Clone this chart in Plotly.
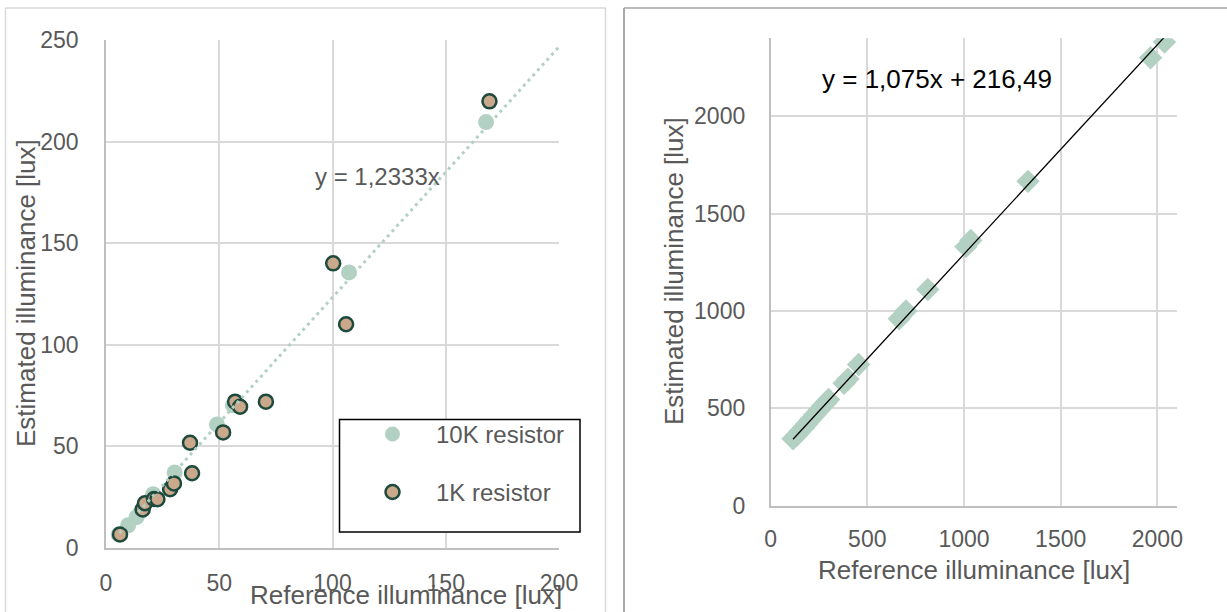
import plotly.graph_objects as go

W, H = 1227, 612

# ---------------- data ----------------
# Left chart: reference vs estimated illuminance (lux)
k10_x = [5.6, 9.8, 13.5, 15.5, 20.8, 30.3, 49.0, 56.0, 107.3, 167.8]
k10_y = [6.7, 11.2, 15.2, 18.0, 26.5, 37.2, 60.8, 70.2, 135.6, 209.6]
k1_x = [6.2, 16.2, 17.2, 21.2, 22.7, 28.3, 30.0, 38.0, 37.1, 51.7, 57.0, 59.2, 70.6, 100.3, 106.0, 169.3]
k1_y = [6.7, 19.0, 22.0, 24.1, 24.0, 28.9, 31.8, 36.8, 51.8, 56.9, 72.0, 69.5, 72.0, 140.1, 110.1, 219.8]
left_slope = 1.2333
left_trend_x = [6.0, 200.0]
left_xticks = [0, 50, 100, 150, 200]
left_yticks = [0, 50, 100, 150, 200, 250]

# Right chart
r_x = [116, 135, 150, 170, 187, 205, 227, 250, 268, 285, 300, 380, 400, 455, 665, 700, 813, 1010, 1035, 1331, 1965, 2037]
r_y = [344, 362, 380, 400, 420, 440, 465, 490, 510, 528, 545, 628, 650, 725, 960, 1000, 1110, 1330, 1362, 1665, 2300, 2380]
r_slope, r_icpt = 1.075, 216.49
r_trend_x = [116, 2040]
right_xticks = [0, 500, 1000, 1500, 2000]
right_yticks = [0, 500, 1000, 1500, 2000]

# ---------------- style ----------------
FONT = "Liberation Sans, Arial, sans-serif"
GRAY_TXT = "#595959"
GRID = "#d9d9d9"
AXIS = "#bfbfbf"
C10K = "#b3d1c3"
C1K = "#c9a88c"
C1K_LINE = "#1e4a3e"


def px(x):
    return x / W


def py(y):
    return 1 - y / H


fig = go.Figure()

fig.add_trace(go.Scatter(x=k10_x, y=k10_y, mode="markers", name="10K resistor",
                         marker=dict(size=16, color=C10K, line=dict(width=0)),
                         xaxis="x", yaxis="y", showlegend=False))
fig.add_trace(go.Scatter(x=k1_x, y=k1_y, mode="markers", name="1K resistor",
                         marker=dict(size=14, color=C1K, line=dict(width=2.5, color=C1K_LINE)),
                         xaxis="x", yaxis="y", showlegend=False))
fig.add_trace(go.Scatter(x=left_trend_x, y=[left_slope * v for v in left_trend_x], mode="lines",
                         line=dict(color=C10K, width=3, dash="3px,4px"),
                         xaxis="x", yaxis="y", showlegend=False, hoverinfo="skip"))

fig.add_trace(go.Scatter(x=r_x, y=r_y, mode="markers",
                         marker=dict(symbol="diamond", size=18, color=C10K, line=dict(width=0)),
                         xaxis="x2", yaxis="y2", showlegend=False))
fig.add_trace(go.Scatter(x=r_trend_x, y=[r_slope * v + r_icpt for v in r_trend_x], mode="lines",
                         line=dict(color="black", width=1.3),
                         xaxis="x2", yaxis="y2", showlegend=False, hoverinfo="skip"))

axis_common = dict(showgrid=True, gridcolor=GRID, gridwidth=1.5, zeroline=False, automargin=False,
                   showline=True, linecolor=AXIS, linewidth=1.5, ticks="",
                   tickfont=dict(family=FONT, size=23, color=GRAY_TXT))

fig.update_layout(
    width=W, height=H, margin=dict(l=0, r=0, t=0, b=0, autoexpand=False),
    paper_bgcolor="white", plot_bgcolor="white",
    font=dict(family=FONT, color=GRAY_TXT),
    xaxis=dict(domain=[px(106), px(559)], range=[0, 200], tickvals=left_xticks,
               anchor="y", ticklabelstandoff=14, **axis_common),
    yaxis=dict(domain=[py(548), py(40)], range=[0, 250], tickvals=left_yticks,
               anchor="x", ticklabelstandoff=21, **axis_common),
    xaxis2=dict(domain=[px(770.6), px(1176.7)], range=[0, 2100], tickvals=right_xticks,
                anchor="y2", ticklabelstandoff=12, **axis_common),
    yaxis2=dict(domain=[py(505.7), py(38.2)], range=[0, 2400], tickvals=right_yticks,
                anchor="x2", ticklabelstandoff=19, **axis_common),
)

shapes = []
# panel frames
shapes.append(dict(type="line", xref="paper", yref="paper", x0=px(5.5), x1=px(5.5), y0=py(8), y1=py(614),
                   line=dict(color=GRID, width=1.5)))
shapes.append(dict(type="line", xref="paper", yref="paper", x0=px(5), x1=px(606), y0=py(8), y1=py(8),
                   line=dict(color=GRID, width=1.5)))
shapes.append(dict(type="line", xref="paper", yref="paper", x0=px(605.5), x1=px(605.5), y0=py(8), y1=py(614),
                   line=dict(color=GRID, width=1.5)))
shapes.append(dict(type="line", xref="paper", yref="paper", x0=px(624), x1=px(624), y0=py(8), y1=py(614),
                   line=dict(color="#8c8c8c", width=1.5)))
shapes.append(dict(type="line", xref="paper", yref="paper", x0=px(624), x1=px(1230), y0=py(8), y1=py(8),
                   line=dict(color="#a6a6a6", width=1.5)))
# legend box
shapes.append(dict(type="rect", xref="paper", yref="paper", x0=px(339.5), x1=px(580), y0=py(532), y1=py(419.5),
                   line=dict(color="black", width=1.5), fillcolor="white", layer="above"))
# legend symbols
shapes.append(dict(type="circle", xref="paper", yref="paper", x0=px(385), x1=px(400), y0=py(441.5), y1=py(426.5),
                   line=dict(width=0), fillcolor=C10K, layer="above"))
shapes.append(dict(type="circle", xref="paper", yref="paper", x0=px(385.5), x1=px(399.5), y0=py(499), y1=py(485),
                   line=dict(width=2.5, color=C1K_LINE), fillcolor=C1K, layer="above"))
fig.update_layout(shapes=shapes)

ann = []
ann.append(dict(text="10K resistor", x=px(434), y=py(434), xref="paper", yref="paper", xanchor="left",
                yanchor="middle", showarrow=False, font=dict(family=FONT, size=24, color=GRAY_TXT)))
ann.append(dict(text="1K resistor", x=px(434), y=py(492), xref="paper", yref="paper", xanchor="left",
                yanchor="middle", showarrow=False, font=dict(family=FONT, size=24, color=GRAY_TXT)))
ann.append(dict(text="Reference illuminance [lux]", x=px(406), y=py(595), xref="paper", yref="paper",
                xanchor="center", yanchor="middle", showarrow=False, font=dict(family=FONT, size=26, color=GRAY_TXT)))
ann.append(dict(text="Estimated illuminance [lux]", x=px(26), y=py(293), xref="paper", yref="paper",
                xanchor="center", yanchor="middle", textangle=-90, showarrow=False,
                font=dict(family=FONT, size=26, color=GRAY_TXT)))
ann.append(dict(text="y = 1,2333x", x=px(378), y=py(176), xref="paper", yref="paper",
                xanchor="center", yanchor="middle", showarrow=False, font=dict(family=FONT, size=24, color=GRAY_TXT)))
ann.append(dict(text="Reference illuminance [lux]", x=px(974), y=py(570), xref="paper", yref="paper",
                xanchor="center", yanchor="middle", showarrow=False, font=dict(family=FONT, size=26, color=GRAY_TXT)))
ann.append(dict(text="Estimated illuminance [lux]", x=px(674), y=py(271), xref="paper", yref="paper",
                xanchor="center", yanchor="middle", textangle=-90, showarrow=False,
                font=dict(family=FONT, size=26, color=GRAY_TXT)))
ann.append(dict(text="y = 1,075x + 216,49", x=px(937), y=py(79), xref="paper", yref="paper",
                xanchor="center", yanchor="middle", showarrow=False, font=dict(family=FONT, size=26, color="black")))
fig.update_layout(annotations=ann)

fig.write_html("out.html")
